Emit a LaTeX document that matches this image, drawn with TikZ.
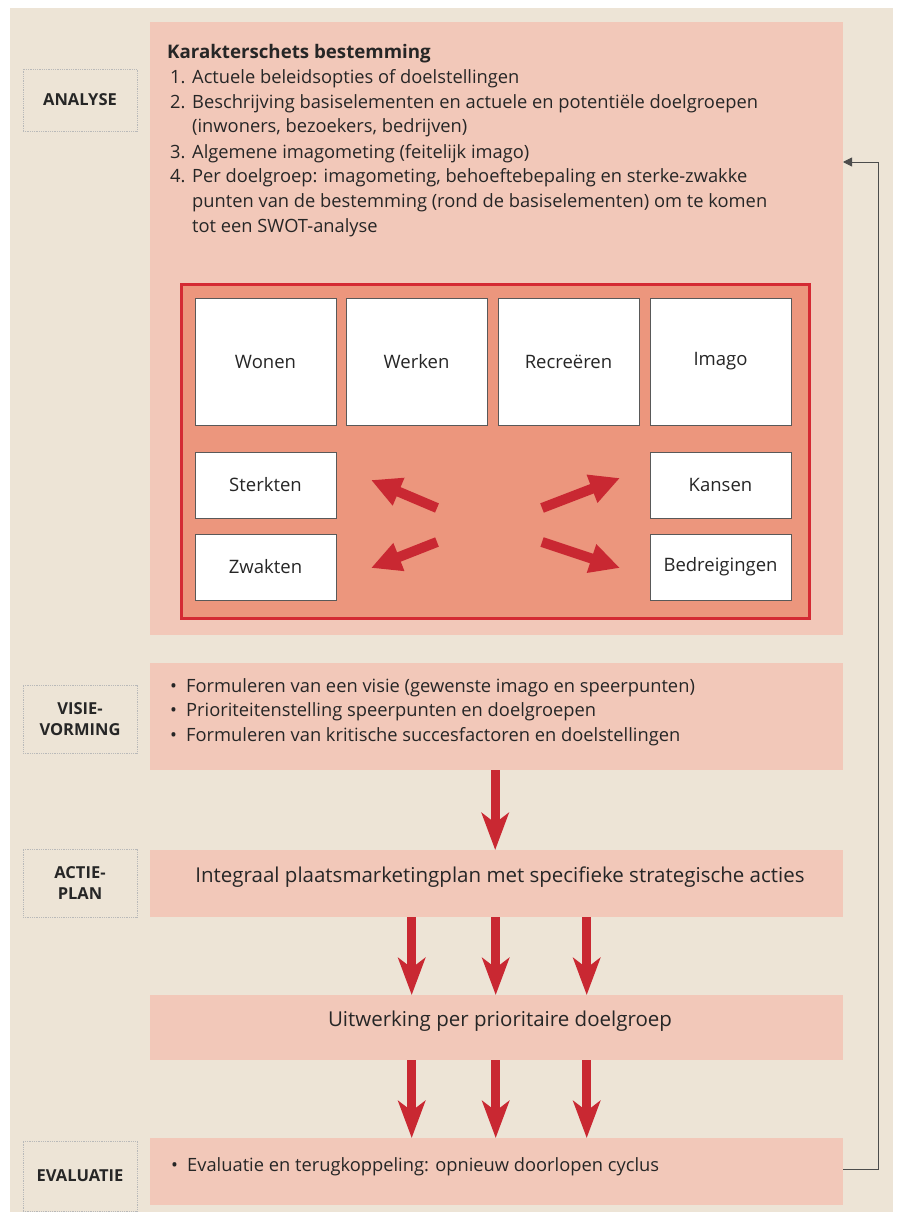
\documentclass[tikz,border=0pt]{standalone}
\usepackage{fontspec}
\setmainfont{Open Sans}
\usetikzlibrary{arrows.meta}
\definecolor{beige}{HTML}{EDE4D6}
\definecolor{stagepink}{HTML}{F2C8B9}
\definecolor{swotfill}{HTML}{EC967D}
\definecolor{swotred}{HTML}{D42A33}
\definecolor{arrowred}{HTML}{C92832}

\begin{document}
\begin{tikzpicture}[x=1pt,y=-1pt,
  stagebox/.style={fill=stagepink,minimum width=693pt,inner sep=0pt,anchor=north west},
  labelbox/.style={draw=gray!55,densely dotted,line width=0.8pt,minimum width=114pt,
    align=center,text=black!85,font=\bfseries\fontsize{16.5}{21}\selectfont},
  whitebox/.style={draw=gray!70!black,line width=0.6pt,fill=white,minimum width=141pt,
    text=black!85,font=\fontsize{18.5}{21}\selectfont},
  bodytext/.style={anchor=mid west,inner sep=0pt,yshift=-3pt,text=black!85,font=\fontsize{18.3}{21}\selectfont},
  boxtext/.style={inner sep=0pt,text=black!85,font=\fontsize{20.5}{24}\selectfont},
  fatarrow/.style={draw=arrowred,line width=10pt,-{Triangle[length=30pt,width=28pt]}},
  downarrow/.style={draw=arrowred,line width=9pt,-{Stealth[length=37pt,width=27pt,inset=10pt]}},
  feedback/.style={draw=black!70,line width=0.8pt,-{Triangle[length=9pt,width=9pt]}}]
  \useasboundingbox (0,0) rectangle (904,1212);
  \fill[beige] (10,8) rectangle (893,1212);

  % stages
  \node[stagebox,minimum height=613pt] (analysebox) at (150,22) {};
  \node[stagebox,minimum height=107pt] (visiebox) at (150,663) {};
  \node[stagebox,minimum height=67pt] (actiebox) at (150,850) {};
  \node[stagebox,minimum height=65pt] (uitwerkbox) at (150,995) {};
  \node[stagebox,minimum height=67pt] (evalbox) at (150,1138) {};

  % labels left
  \node[labelbox,minimum height=62pt] (lblanalyse) at (80,100) {ANALYSE};
  \node[labelbox,minimum height=68pt] (lblvisie) at (80,719) {VISIE-\\VORMING};
  \node[labelbox,minimum height=68pt] (lblactie) at (80,883) {ACTIE-\\PLAN};
  \node[labelbox,minimum height=70pt] (lbleval) at (80,1176) {EVALUATIE};

  % analyse text
  \node[bodytext,font=\bfseries\fontsize{18.7}{22}\selectfont] (titel) at (167,53) {Karakterschets bestemming};
  \foreach \y/\n/\t in {78/1./Actuele beleidsopties of doelstellingen,
      103/2./Beschrijving basiselementen en actuele en potentiële doelgroepen,
      127//{(inwoners, bezoekers, bedrijven)},
      153/3./Algemene imagometing (feitelijk imago),
      177/4./{Per doelgroep: imagometing, behoeftebepaling en sterke-zwakke},
      202//punten van de bestemming (rond de basiselementen) om te komen,
      227//tot een SWOT-analyse}{
    \node[bodytext] (lijn\y) at (170,\y) {\makebox[22pt][l]{\n}\t};
  }

  % SWOT frame
  \node[draw=swotred,line width=3pt,fill=swotfill,minimum width=628pt,minimum height=334pt] (swot) at (495.5,451.5) {};
  \foreach \x/\t/\nm in {265.5/Wonen/wonen,416.5/Werken/werken,568.5/Recreëren/recreeren,720.5/Imago/imago}{
    \node[whitebox,minimum height=127pt] (\nm) at (\x,361.5) {\t};
  }
  \node[whitebox,minimum height=66pt] (sterkten) at (265.5,485) {Sterkten};
  \node[whitebox,minimum height=66pt] (zwakten) at (265.5,567) {Zwakten};
  \node[whitebox,minimum height=66pt] (kansen) at (720.5,485) {Kansen};
  \node[whitebox,minimum height=66pt] (bedreigingen) at (720.5,567) {Bedreigingen};
  \coordinate (mid1) at (437,508); \coordinate (pijl1) at (371,480);
  \coordinate (mid2) at (542,508); \coordinate (pijl2) at (620,478);
  \coordinate (mid3) at (437,542); \coordinate (pijl3) at (371,568);
  \coordinate (mid4) at (542,542); \coordinate (pijl4) at (620,568);
  \foreach \i in {1,...,4}{
    \draw[fatarrow] (mid\i) -- (pijl\i);
  }

  % visievorming
  \foreach \y/\t in {687/Formuleren van een visie (gewenste imago en speerpunten),
      711/Prioriteitenstelling speerpunten en doelgroepen,
      736/Formuleren van kritische succesfactoren en doelstellingen}{
    \node[bodytext] (visie\y) at (170,\y) {\makebox[16pt][l]{\textbullet}\t};
  }
  \node[boxtext] (actietekst) at (500,877) {Integraal plaatsmarketingplan met specifieke strategische acties};
  \node[boxtext] (uitwerktekst) at (500,1021) {Uitwerking per prioritaire doelgroep};
  \node[bodytext] (evaltekst) at (171,1166) {\makebox[16pt][l]{\textbullet}Evaluatie en terugkoppeling: opnieuw doorlopen cyclus};

  % arrows down
  \draw[downarrow] ([xshift=-1.5pt]visiebox.south) -- ([xshift=-1.5pt]actiebox.north);
  \foreach \dx in {-85,-1,90}{
    \draw[downarrow] ([xshift=\dx pt]actiebox.south) -- ([xshift=\dx pt]uitwerkbox.north);
    \draw[downarrow] ([xshift=\dx pt]uitwerkbox.south) -- ([xshift=\dx pt]evalbox.north);
  }

  % feedback loop
  \coordinate (terug) at (843,162);
  \draw[feedback] ([yshift=2.5pt]evalbox.east) -- ++(35,0) |- (terug);
\end{tikzpicture}
\end{document}
